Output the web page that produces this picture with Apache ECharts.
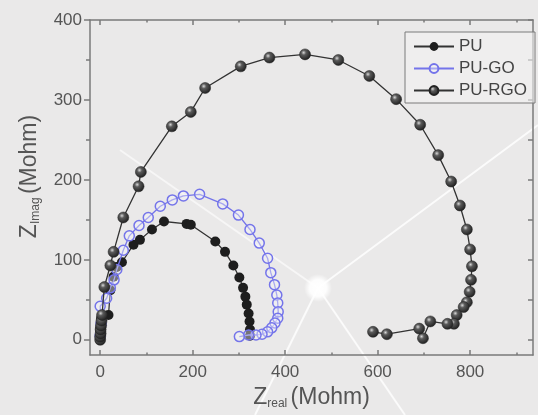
<!DOCTYPE html>
<html>
<head>
<meta charset="utf-8">
<script src="https://cdn.jsdelivr.net/npm/echarts@6/dist/echarts.min.js"></script>
<style>html,body{margin:0;padding:0;background:#eae9e9;}#c{width:538px;height:415px;}</style>
</head>
<body>
<div id="c"></div>
<script>
// Data (Z_real, Z_imag) in Mohm
const puData = [[0,0],[0,3],[0,6],[0,10],[0,14],[1,18],[1,22],[2,27],[18,31],[22,62],[29,79],[36,91],[47,97],[72,119],[86,125],[112,138],[138,148],[187,145],[196,144],[249,123],[270,110],[288,93],[301,78],[309,65],[314,54],[317,44],[321,33],[323,23],[324,13],[324,5]];
const puGoData = [[0,5],[2,20],[0,42],[14,52],[22,65],[30,75],[36,88],[50,112],[63,130],[84,143],[104,153],[130,167],[156,175],[180,180],[215,182],[265,170],[299,156],[324,138],[344,121],[362,102],[369,84],[377,69],[382,56],[384,46],[385,35],[384,27],[378,21],[371,15],[362,10],[350,7],[337,6],[321,6],[301,4]];
const puRgoData = [[0,0],[0,4],[1,8],[1,13],[2,18],[3,24],[4,31],[9,66],[22,93],[29,110],[50,153],[83,192],[88,210],[155,267],[196,285],[227,315],[304,342],[366,353],[443,357],[515,350],[582,330],[640,301],[692,269],[731,231],[759,198],[778,168],[793,138],[800,113],[804,92],[802,75],[799,60],[793,47],[786,41],[771,31],[765,20],[751,20],[714,23],[698,2],[690,14],[620,7],[590,10]];
const seriesNames = ['PU','PU-GO','PU-RGO'];
const xMajorTicks = [0,200,400,600,800];
const xMinorTicks = [100,300,500,700,900];
const yMajorTicks = [0,100,200,300,400];
const yMinorTicks = [50,150,250,350];
const yRightTicks = [0,50,100,150,200,250,300,350,400];
const xRange = [-22, 936];
const yRange = [-19, 400];

const chart = echarts.init(document.getElementById('c'));
const axisCol = '#7a7a7a';
const lblCol = '#555';
const FONT = 'Liberation Sans, Arial, sans-serif';
const sphere = new echarts.graphic.RadialGradient(0.38, 0.35, 0.7, [
  {offset:0, color:'#d8d8d8'},{offset:0.3, color:'#5a5a5a'},{offset:1, color:'#1a1a1a'}]);

function xAx(extra){ return Object.assign({type:'value', min:xRange[0], max:xRange[1], splitLine:{show:false}}, extra); }
function yAx(extra){ return Object.assign({type:'value', min:yRange[0], max:yRange[1], splitLine:{show:false}}, extra); }
function line(show){ return {show:show, onZero:false, lineStyle:{color:axisCol, width:1.5}}; }
function ticks(vals, inside, len){ return {show:true, inside:inside, length:len, customValues:vals, lineStyle:{color:axisCol, width:1.5}}; }
const nameRich = {
  z:{fontSize:23, color:'#555', fontFamily:FONT},
  sub:{fontSize:12, color:'#555', padding:[13,0,0,0], fontFamily:FONT}
};

const option = {
  backgroundColor: '#eae9e9',
  animation: false,
  graphic: [
    {type:'line', z:0, silent:true, shape:{x1:120, y1:150, x2:318, y2:288}, style:{stroke:'rgba(255,255,255,0.6)', lineWidth:2}},
    {type:'line', z:0, silent:true, shape:{x1:318, y1:288, x2:538, y2:125}, style:{stroke:'rgba(255,255,255,0.8)', lineWidth:2}},
    {type:'line', z:0, silent:true, shape:{x1:318, y1:288, x2:255, y2:415}, style:{stroke:'rgba(255,255,255,0.8)', lineWidth:2}},
    {type:'line', z:0, silent:true, shape:{x1:318, y1:288, x2:405, y2:415}, style:{stroke:'rgba(255,255,255,0.8)', lineWidth:2}},
    {type:'circle', z:0, silent:true, shape:{cx:318, cy:288, r:14}, style:{fill:new echarts.graphic.RadialGradient(0.5,0.5,0.5,[{offset:0,color:'rgba(255,255,255,1)'},{offset:0.6,color:'rgba(255,255,255,0.9)'},{offset:1,color:'rgba(255,255,255,0)'}])}}
  ],
  grid: {left:90, top:20, right:5, bottom:60},
  legend: {
    orient:'vertical', left:405, top:32, width:130,
    padding:[6,8,4,8], itemGap:5, itemWidth:40, itemHeight:11,
    borderColor:'#7a7a7a', borderWidth:1, borderRadius:0,
    backgroundColor:'rgba(242,242,242,0.6)',
    textStyle:{fontSize:17, color:'#444', fontFamily:FONT},
    data: seriesNames
  },
  xAxis: [
    xAx({position:'bottom', axisLine:line(true), axisTick:ticks(xMajorTicks, true, 5),
      axisLabel:{customValues:xMajorTicks, fontSize:17, color:lblCol, margin:9, fontFamily:FONT},
      name:'{z|Z}{sub|real} {z|(Mohm)}', nameLocation:'middle', nameGap:14,
      nameTextStyle:{color:'#555', fontFamily:FONT, rich:nameRich}
    }),
    xAx({position:'bottom', axisLine:line(false), axisTick:ticks(xMinorTicks, true, 2.5), axisLabel:{show:false}}),
    xAx({position:'top', axisLine:line(true), axisTick:ticks(xMajorTicks, true, 5), axisLabel:{show:false}}),
    xAx({position:'top', axisLine:line(false), axisTick:ticks(xMinorTicks, true, 2.5), axisLabel:{show:false}})
  ],
  yAxis: [
    yAx({position:'left', axisLine:line(true), axisTick:ticks(yMajorTicks, false, 6),
      axisLabel:{customValues:yMajorTicks, fontSize:17, color:lblCol, margin:8, fontFamily:FONT},
      name:'{z|Z}{sub|Imag} {z|(Mohm)}', nameLocation:'middle', nameGap:48, nameRotate:90,
      nameTextStyle:{color:'#555', padding:[0,0,0,22], fontFamily:FONT, rich:nameRich}
    }),
    yAx({position:'left', axisLine:line(false), axisTick:ticks(yMinorTicks, false, 4), axisLabel:{show:false}}),
    yAx({position:'right', axisLine:line(true), axisTick:ticks(yRightTicks, true, 5), axisLabel:{show:false}})
  ],
  series: [
    {name:seriesNames[0], type:'line', data:puData, symbol:'circle', symbolSize:10,
      itemStyle:{color:'#1e1e1e', borderColor:'#1e1e1e', borderWidth:0},
      lineStyle:{color:'#333', width:1.3}, z:3},
    {name:seriesNames[1], type:'line', data:puGoData, symbol:'circle', symbolSize:10,
      itemStyle:{color:'rgba(245,245,250,0.4)', borderColor:'#7474ea', borderWidth:1.5},
      lineStyle:{color:'#7474ea', width:1.3}, z:4},
    {name:seriesNames[2], type:'line', data:puRgoData, symbol:'circle', symbolSize:11,
      itemStyle:{color:sphere, borderColor:'#222', borderWidth:0.5},
      lineStyle:{color:'#333', width:1.3}, z:5}
  ]
};
chart.setOption(option);
</script>
</body>
</html>
